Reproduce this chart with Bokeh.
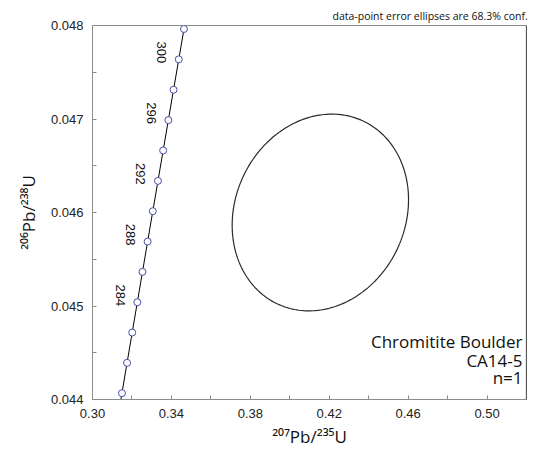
import numpy as np
from bokeh.plotting import figure
from bokeh.models import FixedTicker, PrintfTickFormatter, Label, Span, ColumnDataSource, Title
from bokeh.core.properties import value
from bokeh.embed import file_html
from bokeh.resources import INLINE

# Concordia (Wetherill) ticks, every 2 Ma
conc_age = [278, 280, 282, 284, 286, 288, 290, 292, 294, 296, 298, 300, 302]
conc_x = [0.31493, 0.31752, 0.32012, 0.32272, 0.32533, 0.32794, 0.33056,
          0.33318, 0.33581, 0.33845, 0.34108, 0.34373, 0.34638]
conc_y = [0.044068, 0.044392, 0.044716, 0.045040, 0.045365, 0.045689, 0.046014,
          0.046338, 0.046663, 0.046988, 0.047313, 0.047638, 0.047963]
# curve continues beyond the marked ticks (ages 276 and 304 Ma)
curve_x = [0.31234] + conc_x + [0.34903]
curve_y = [0.043744] + conc_y + [0.048288]
label_ages = [284, 288, 292, 296, 300]

# Data-point error ellipse (68.3% conf.)
ell_x, ell_y = 0.4155, 0.04600
ell_sx, ell_sy, ell_rho = 0.0447, 0.001052, 0.13

x_major = [0.30, 0.34, 0.38, 0.42, 0.46, 0.50]
x_minor = [0.32, 0.36, 0.40, 0.44, 0.48, 0.52]
y_major = [0.044, 0.045, 0.046, 0.047, 0.048]
y_minor = [0.0445, 0.0455, 0.0465, 0.0475]

p = figure(width=542, height=453, x_range=(0.30, 0.52), y_range=(0.044, 0.048),
           output_backend="svg", toolbar_location=None,
           min_border_left=92, min_border_right=16, min_border_top=25, min_border_bottom=54)
p.title.visible = False
p.grid.visible = False
p.background_fill_color = "white"
p.border_fill_color = "white"
p.outline_line_color = "#8c8c8c"
p.outline_line_width = 1

axc = "#8c8c8c"
for ax, fmt in ((p.xaxis[0], "%.2f"), (p.yaxis[0], "%.3f")):
    ax.axis_line_color = axc
    ax.major_tick_line_color = axc
    ax.minor_tick_line_color = axc
    ax.major_tick_in = 4
    ax.major_tick_out = 0
    ax.minor_tick_in = 4
    ax.minor_tick_out = 0
    ax.major_label_text_font = "Liberation Sans"
    ax.major_label_text_font_size = "13px"
    ax.major_label_text_color = "#222222"
    ax.formatter = PrintfTickFormatter(format=fmt)
    ax.axis_label_text_font = "Open Sans"
    ax.axis_label_text_font_size = "17px"
    ax.axis_label_text_font_style = "normal"
    ax.axis_label_text_color = "#111111"
p.xaxis[0].ticker = FixedTicker(ticks=x_major, minor_ticks=x_minor)
p.yaxis[0].ticker = FixedTicker(ticks=y_major, minor_ticks=y_minor)
p.xaxis[0].major_label_standoff = 9
p.yaxis[0].major_label_standoff = 9
p.xaxis[0].axis_label = "²⁰⁷Pb/²³⁵U"
p.yaxis[0].axis_label = "²⁰⁶Pb/²³⁸U"
p.xaxis[0].axis_label_standoff = 4
p.yaxis[0].axis_label_standoff = 8

# right frame edge is dark
p.add_layout(Span(location=0.52, dimension="height", line_color="#222222", line_width=1.2))

# error ellipse
t = np.linspace(0, 2 * np.pi, 240)
ex = ell_x + ell_sx * np.cos(t)
ey = ell_y + ell_sy * (ell_rho * np.cos(t) + np.sqrt(1 - ell_rho ** 2) * np.sin(t))
p.line(ex, ey, line_color="#2a2a2a", line_width=1.2)

# concordia
p.line(curve_x, curve_y, line_color="black", line_width=1)
p.scatter(conc_x, conc_y, marker="circle", size=7, fill_color="white",
          line_color="#4a4fa8", line_width=1)

lab = ColumnDataSource(dict(
    x=[conc_x[conc_age.index(a)] for a in label_ages],
    y=[conc_y[conc_age.index(a)] for a in label_ages],
    t=[str(a) for a in label_ages]))
p.text(x="x", y="y", text="t", source=lab, angle=-np.pi / 2, x_offset=-17, y_offset=-7,
       text_align="center", text_baseline="middle", text_font=value("Liberation Sans"),
       text_font_size="13px", text_color="#111111")

# sample annotation
for txt, yy in (("Chromitite Boulder", 0.044616), ("CA14-5", 0.044420), ("n=1", 0.044238)):
    p.add_layout(Label(x=0.51797, y=yy, text=txt, text_align="right", text_baseline="middle",
                       text_font="Open Sans", text_font_size="17px", text_color="#111111"))

# note above the frame
p.add_layout(Title(text="data-point error ellipses are 68.3% conf.", align="left",
                   text_font="Open Sans", text_font_size="10.5px", text_font_style="normal",
                   text_color="#111111", offset=240, standoff=6), "above")

open("out.html", "w").write(file_html(p, INLINE))
